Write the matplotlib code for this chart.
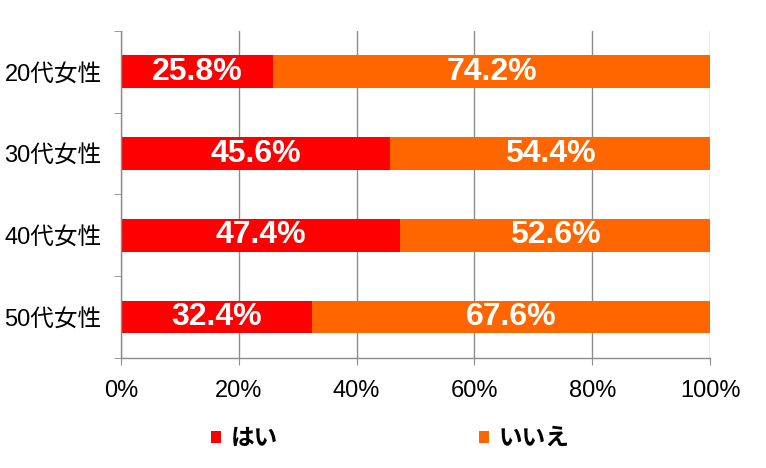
import matplotlib
matplotlib.use("Agg")
import matplotlib.pyplot as plt
from matplotlib.ticker import FixedLocator, PercentFormatter
import numpy as np

plt.rcParams['font.family'] = ['Liberation Sans', 'Noto Sans CJK JP', 'DejaVu Sans']

# データ
categories = ['20代女性', '30代女性', '40代女性', '50代女性']
hai = [25.8, 45.6, 47.4, 32.4]
iie = [74.2, 54.4, 52.6, 67.6]
series_names = ['はい', 'いいえ']
xticks = [0, 20, 40, 60, 80, 100]

RED = '#FF0000'
ORANGE = '#FF6600'
GRID = '#8C8C8C'

fig = plt.figure(figsize=(7.66, 4.68), dpi=100)
ax = fig.add_axes([0.158, 0.235, 0.769, 0.699])

y = np.arange(len(categories))
b1 = ax.barh(y, hai, height=0.4, color=RED, label=series_names[0], zorder=2)
b2 = ax.barh(y, iie, left=hai, height=0.4, color=ORANGE, label=series_names[1], zorder=2)

for bars in (b1, b2):
    ax.bar_label(bars, labels=[f'{b.get_width():.1f}%' for b in bars],
                 label_type='center', color='white', fontsize=23,
                 fontweight='bold', family='Liberation Sans')

ax.set_xlim(0, 100)
ax.set_ylim(len(categories) - 0.5, -0.5)

ax.set_xticks(xticks)
ax.xaxis.set_major_formatter(PercentFormatter(decimals=0))
ax.tick_params(axis='x', length=5, color=GRID, labelsize=17, pad=11)
ax.grid(axis='x', color=GRID, linewidth=1, zorder=0)

ax.set_yticks(y)
ax.set_yticklabels(categories)
ax.tick_params(axis='y', which='major', length=0, labelsize=17, pad=14)
ax.yaxis.set_minor_locator(FixedLocator(np.arange(-0.5, len(categories), 1)))
ax.tick_params(axis='y', which='minor', length=5, color=GRID)

for s in ('top', 'right'):
    ax.spines[s].set_visible(False)
for s in ('left', 'bottom'):
    ax.spines[s].set_color(GRID)
    ax.spines[s].set_linewidth(1)

leg = fig.legend(handles=[b1, b2], labels=series_names, loc='center',
                 bbox_to_anchor=(0.51, 0.064), ncol=2, frameon=False,
                 handlelength=0.42, handleheight=0.42, handletextpad=0.42,
                 columnspacing=8.5,
                 prop={'family': ['Noto Sans CJK JP'], 'weight': 'bold', 'size': 17})

fig.savefig('out.png', dpi=100)
